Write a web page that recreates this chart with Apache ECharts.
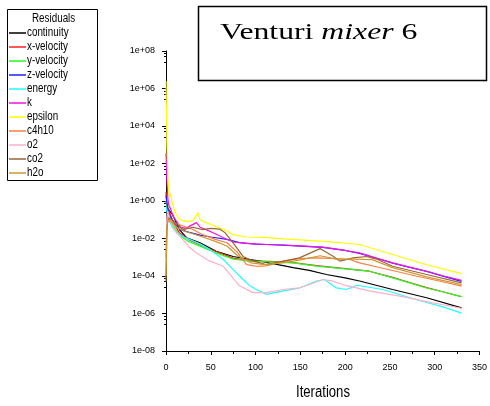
<!DOCTYPE html>
<html><head><meta charset="utf-8">
<script src="https://cdn.jsdelivr.net/npm/echarts@6/dist/echarts.min.js"></script>
<style>html,body{margin:0;padding:0;background:#fff}#c{width:490px;height:406px}</style>
</head><body><div id="c"></div>
<script>
const SANS = "'Liberation Sans',Arial,sans-serif";
const SERIF = "'Liberation Serif','Times New Roman',serif";
const seriesNames = ['continuity','x-velocity','y-velocity','z-velocity','energy','k','epsilon','c4h10','o2','co2','h2o'];
const seriesColors = ['#000000','#ff2020','#20ff20','#2020ff','#20ffff','#ff10e0','#ffff00','#ff7f3f','#ffb0c8','#996633','#cc9933'];
const xTicks = [0,50,100,150,200,250,300,350];
const legendTitle = 'Residuals';
const axisTitle = 'Iterations';

const continuity = [[0,1],[1,0.7],[2,0.4],[4,0.3],[7,0.2],[10,0.1],[15,0.03],[23,0.011],[38,0.0059],[56,0.0021],[75,0.0011],[94,7.6e-4],[105,6.2e-4],[125,4e-4],[142,2.8e-4],[160,2e-4],[179,1.2e-4],[200,8e-5],[216,5.4e-5],[253,1.9e-5],[291,6.9e-6],[330,2e-6]];
const xVelocity = [[0,3],[1,0.6],[2,0.4],[4,0.25],[7,0.1],[10,0.05],[15,0.02],[25,0.009],[38,0.0045],[56,0.002],[75,9e-4],[94,6.5e-4],[115,6e-4],[142,5.2e-4],[168,3.6e-4],[200,2.5e-4],[227,1.8e-4],[253,8.5e-5],[272,4.5e-5],[291,2.4e-5],[310,1.4e-5],[330,7.8e-6]];
const yVelocity = [[0,1],[1,0.5],[2,0.3],[4,0.15],[7,0.06],[10,0.035],[15,0.015],[25,0.007],[38,0.0039],[56,0.0017],[75,8e-4],[94,6.2e-4],[115,5.6e-4],[142,5e-4],[168,3.4e-4],[200,2.4e-4],[227,1.8e-4],[253,8e-5],[272,4.3e-5],[291,2.3e-5],[310,1.4e-5],[330,8e-6]];
const zVelocity = [[0,2],[1,0.8],[2,0.4],[3,0.25],[5,0.15],[8,0.08],[12,0.05],[16,0.03],[25,0.022],[38,0.015],[50,0.012],[68,0.009],[82,0.006],[100,0.005],[112,0.0048],[130,0.0044],[150,0.0039],[175,0.0034],[200,0.0023],[216,0.0016],[235,8.8e-4],[253,4.9e-4],[272,2.9e-4],[291,1.75e-4],[310,9.5e-5],[330,5.2e-5]];
const energy = [[0,0.5],[1,0.3],[2,0.15],[4,0.08],[7,0.04],[12,0.02],[20,0.012],[27,0.0087],[38,0.005],[49,0.0026],[64,7.6e-4],[75,2.2e-4],[86,6.5e-5],[94,2.9e-5],[101,1.9e-5],[112,1.05e-5],[131,1.6e-5],[149,2.3e-5],[168,5.4e-5],[177,6.5e-5],[190,2.3e-5],[201,1.9e-5],[213,3.2e-5],[242,1.9e-5],[279,5.6e-6],[310,2.2e-6],[330,1.05e-6]];
const k = [[0,350],[1,15],[2,1.5],[3,0.6],[5,0.4],[8,0.15],[12,0.08],[16,0.04],[22,0.035],[28,0.05],[34,0.07],[38,0.04],[46,0.028],[55,0.018],[64,0.011],[75,0.0065],[90,0.0055],[112,0.0048],[130,0.0045],[150,0.004],[175,0.0035],[200,0.0023],[216,0.0017],[235,9e-4],[253,5e-4],[272,3e-4],[291,1.8e-4],[310,1e-4],[330,5.8e-5]];
const epsilon = [[0,2.5e6],[1,1e3],[2,20],[3,4],[4,1.5],[5,2.5],[7,0.8],[10,0.25],[14,0.12],[18,0.09],[25,0.08],[30,0.09],[33,0.15],[36,0.23],[38,0.1],[45,0.07],[55,0.045],[65,0.03],[75,0.016],[90,0.012],[110,0.0115],[130,0.0095],[150,0.0085],[172,0.0072],[190,0.0062],[216,0.0048],[253,0.0014],[291,4e-4],[330,1.35e-4]];
const c4h10 = [[0,1e-3],[1,0.08],[2,0.15],[4,0.1],[7,0.08],[12,0.06],[20,0.045],[30,0.03],[41,0.016],[55,0.009],[68,0.0059],[79,0.002],[90,4e-4],[101,3.3e-4],[112,3.5e-4],[131,6.2e-4],[149,8.5e-4],[168,9.3e-4],[190,8.5e-4],[205,7.6e-4],[216,5e-4],[242,2.6e-4],[279,1e-4],[310,4.8e-5],[330,2.9e-5]];
const o2 = [[0,3e-3],[1,0.15],[2,0.3],[3,0.2],[5,0.08],[8,0.04],[12,0.02],[19,0.0087],[26,0.0035],[34,0.0017],[49,6.2e-4],[64,3.3e-4],[82,3e-5],[97,1.3e-5],[112,1.3e-5],[131,1.9e-5],[149,2.3e-5],[160,3.5e-5],[175,6.5e-5],[185,5.5e-5],[197,3.5e-5],[227,1.6e-5],[261,8.5e-6],[298,3.7e-6],[330,1.9e-6]];
const co2 = [[0,5e-5],[1,0.03],[2,0.08],[4,0.12],[7,0.1],[12,0.06],[19,0.03],[30,0.04],[41,0.03],[50,0.035],[60,0.032],[66,0.02],[75,0.0059],[86,0.0011],[97,6.2e-4],[105,5e-4],[112,4e-4],[130,6e-4],[149,9.3e-4],[172,0.0029],[187,0.0011],[194,6.2e-4],[209,9.3e-4],[224,0.0011],[235,8e-4],[253,3.3e-4],[291,1.2e-4],[330,4.3e-5]];
const h2o = [[0,1e-4],[1,0.04],[2,0.1],[4,0.09],[7,0.07],[12,0.04],[20,0.025],[30,0.018],[41,0.012],[55,0.007],[68,0.004],[80,0.0012],[95,5e-4],[110,4e-4],[130,5e-4],[149,7e-4],[172,0.0012],[190,8e-4],[210,8e-4],[230,7.5e-4],[253,2.8e-4],[291,9e-5],[330,3.5e-5]];

const seriesData = [continuity,xVelocity,yVelocity,zVelocity,energy,k,epsilon,c4h10,o2,co2,h2o];

function fmtLog(v){const e=Math.round(Math.log10(v));if(e%2!==0)return '';return '1e'+(e<0?'-':'+')+String(Math.abs(e)).padStart(2,'0');}

const graphics = [
  {type:'rect',z:0,shape:{x:7.5,y:9.5,width:90,height:171},style:{fill:'#fff',stroke:'#000',lineWidth:1}},
  {type:'text',z:5,x:32,y:19,scaleX:0.82,style:{text:legendTitle,font:'12px '+SANS,fill:'#000',textAlign:'left',textVerticalAlign:'middle'}},
  {type:'rect',z:0,shape:{x:198.5,y:6.5,width:288,height:74},style:{fill:'#fff',stroke:'#000',lineWidth:1.5}},
  {type:'text',z:5,x:220,y:33,scaleX:1.38,style:{text:'{n|Venturi }{i|mixer}{n| 6}',textVerticalAlign:'middle',
    rich:{n:{fontFamily:SERIF,fontSize:23,fill:'#000'},
          i:{fontFamily:SERIF,fontSize:23,fontStyle:'italic',fill:'#000'}}}},
  {type:'text',z:5,x:296,y:393,scaleX:0.82,style:{text:axisTitle,font:'16px '+SANS,fill:'#000',textAlign:'left',textVerticalAlign:'middle'}}
];
seriesNames.forEach((n,i)=>{
  const y = 33 + 14*i;
  graphics.push({type:'line',z:5,shape:{x1:9,y1:y,x2:26,y2:y},style:{stroke:seriesColors[i],lineWidth:1.5}});
  graphics.push({type:'text',z:5,x:27,y:y,scaleX:0.82,style:{text:n,font:'12px '+SANS,fill:'#000',textVerticalAlign:'middle'}});
});

const chart = echarts.init(document.getElementById('c'), null, {renderer:'canvas'});
chart.setOption({
  animation:false,
  backgroundColor:'#ffffff',
  grid:{left:166,right:10,top:51,bottom:55,containLabel:false},
  xAxis:{type:'value',min:xTicks[0],max:xTicks[xTicks.length-1],interval:50,
    axisLine:{lineStyle:{color:'#000',width:1}},
    axisTick:{length:4,lineStyle:{color:'#000'}},
    minorTick:{show:true,splitNumber:2,length:3,lineStyle:{color:'#000'}},
    axisLabel:{fontFamily:SANS,fontSize:9,color:'#000',margin:12},
    splitLine:{show:false}},
  yAxis:{type:'log',logBase:10,min:1e-8,max:1e8,interval:2,
    axisLine:{show:true,lineStyle:{color:'#000',width:1}},
    axisTick:{show:true,length:4,lineStyle:{color:'#000'}},
    minorTick:{show:true,splitNumber:4,length:2,lineStyle:{color:'#000'}},
    axisLabel:{fontFamily:SANS,fontSize:9,color:'#000',margin:11,formatter:fmtLog},
    splitLine:{show:false}},
  graphic:graphics,
  series: seriesNames.map((n,i)=>({name:n,type:'line',data:seriesData[i],showSymbol:false,symbol:'none',
    color:seriesColors[i],lineStyle:{width:1.2,color:seriesColors[i]},z:2}))
});
</script></body></html>
